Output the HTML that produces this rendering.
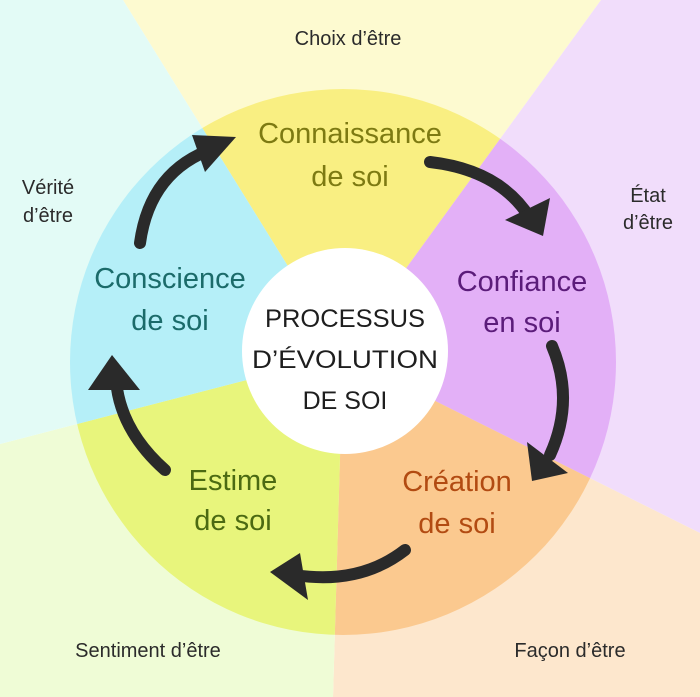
<!DOCTYPE html>
<html><head><meta charset="utf-8"><style>
html,body{margin:0;padding:0;width:700px;height:697px;overflow:hidden;background:#fff}
svg{display:block;overflow:hidden}
text{font-family:"Liberation Sans","DejaVu Sans",sans-serif;text-anchor:middle}
</style></head><body>
<svg width="700" height="697" viewBox="0 0 700 697" overflow="hidden" xmlns="http://www.w3.org/2000/svg">
<defs><clipPath id="c"><circle cx="343" cy="362" r="273"/></clipPath></defs>
<g>
<polygon points="343,355 123,0 601,0" fill="#fdfad0"/>
<polygon points="343,355 601,0 700,0 700,533" fill="#f1ddfb"/>
<polygon points="343,355 700,533 700,697 333,697" fill="#fde7cd"/>
<polygon points="343,355 333,697 0,697 0,444" fill="#effcd6"/>
<polygon points="343,355 0,444 0,0 123,0" fill="#e3fbf6"/>
</g>
<g clip-path="url(#c)">
<polygon points="343,355 123,0 601,0" fill="#f9ef82"/>
<polygon points="343,355 601,0 700,0 700,533" fill="#e3b0f7"/>
<polygon points="343,355 700,533 700,697 333,697" fill="#fbc98f"/>
<polygon points="343,355 333,697 0,697 0,444" fill="#e8f57c"/>
<polygon points="343,355 0,444 0,0 123,0" fill="#b5eff8"/>
</g>
<circle cx="345" cy="351" r="103" fill="#fff"/>
<g fill="#2a2a2a" stroke="#2a2a2a" stroke-linecap="round">
<path d="M140,243 Q150,170 215,148" fill="none" stroke-width="12"/>
<polygon points="192,135 236,137 205,172" stroke="none"/>
<path d="M430,162 Q500,170 530,218" fill="none" stroke-width="12"/>
<polygon points="505,220 550,198 543,236" stroke="none"/>
<path d="M552,346 Q575,400 550,455" fill="none" stroke-width="12"/>
<polygon points="527,442 568,473 532,481" stroke="none"/>
<path d="M405,550 Q360,585 295,575" fill="none" stroke-width="12"/>
<polygon points="300,553 270,572 308,600" stroke="none"/>
<path d="M165,470 Q120,430 116,380" fill="none" stroke-width="12"/>
<polygon points="88,390 112,355 140,390" stroke="none"/>
</g>
<g font-size="20" fill="#2b2b2b">
<text x="348" y="45">Choix d’être</text>
<text x="48" y="194">Vérité</text>
<text x="48" y="222">d’être</text>
<text x="648" y="202">État</text>
<text x="648" y="229">d’être</text>
<text x="148" y="657">Sentiment d’être</text>
<text x="570" y="657">Façon d’être</text>
</g>
<g font-size="29">
<text x="350" y="143" fill="#7d7a12">Connaissance</text>
<text x="350" y="186" fill="#7d7a12">de soi</text>
<text x="170" y="288" fill="#1b6b6a">Conscience</text>
<text x="170" y="330" fill="#1b6b6a">de soi</text>
<text x="522" y="291" fill="#5b1c7a">Confiance</text>
<text x="522" y="332" fill="#5b1c7a">en soi</text>
<text x="233" y="490" fill="#4b6a12">Estime</text>
<text x="233" y="530" fill="#4b6a12">de soi</text>
<text x="457" y="491" fill="#b24b12">Création</text>
<text x="457" y="533" fill="#b24b12">de soi</text>
</g>
<g font-size="25" fill="#1e1e1e">
<text x="345" y="327" textLength="160" lengthAdjust="spacingAndGlyphs">PROCESSUS</text>
<text x="345" y="368" textLength="186" lengthAdjust="spacingAndGlyphs">D’ÉVOLUTION</text>
<text x="345" y="409">DE SOI</text>
</g>
</svg>
</body></html>
